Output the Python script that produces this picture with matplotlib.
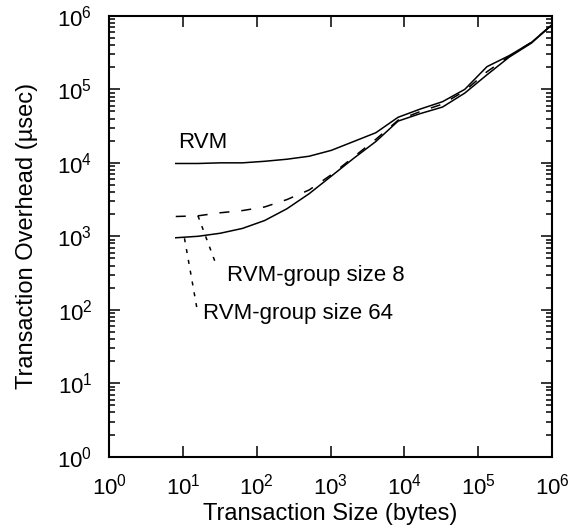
import matplotlib
matplotlib.use("Agg")
import matplotlib.pyplot as plt
from matplotlib.ticker import FixedLocator, LogLocator, NullLocator, LogFormatterSciNotation

plt.rcParams["font.family"] = ["Liberation Sans", "DejaVu Sans"]
plt.rcParams["mathtext.fontset"] = "custom"
plt.rcParams["mathtext.rm"] = "Liberation Sans"
plt.rcParams["mathtext.it"] = "Liberation Sans:italic"
plt.rcParams["lines.scale_dashes"] = False

# transaction sizes in bytes (powers of two)
sizes = [8, 16, 32, 64, 128, 256, 512, 1024, 2048, 4096, 8192, 16384,
         32768, 65536, 131072, 262144, 524288, 1048576]

# overhead in microseconds
rvm = [9800, 9800, 10000, 10000, 10500, 11200, 12300, 14800, 19500, 25700,
       41700, 54000, 68000, 100000, 204000, 288000, 437000, 794000]
group8 = [1860, 1900, 2090, 2240, 2510, 3160, 4270, 6900, 12000, 20900,
          38000, 50000, 63000, 95500, 174000, 282000, 437000, 794000]
group64 = [955, 1000, 1100, 1280, 1640, 2370, 3800, 6600, 11500, 19500,
           37000, 46800, 57500, 89000, 158000, 275000, 427000, 794000]

decades = [10.0 ** k for k in range(7)]

fig = plt.figure(figsize=(5.71, 5.31), dpi=100)
ax = fig.add_axes([0.191, 0.140, 0.776, 0.830])

ax.plot(sizes, rvm, color="black", lw=1.1)
ax.plot(sizes, group8, color="black", lw=1.1, linestyle=(0, (7.2, 8.6)))
ax.plot(sizes, group64, color="black", lw=1.1)

ax.set_xscale("log")
ax.set_yscale("log")
ax.set_xlim(1, 1e6)
ax.set_ylim(1, 1e6)

ax.xaxis.set_major_locator(FixedLocator(decades))
ax.xaxis.set_minor_locator(NullLocator())
ax.yaxis.set_major_locator(FixedLocator(decades))
ax.yaxis.set_minor_locator(LogLocator(base=10, subs=range(2, 10), numticks=10))
ax.xaxis.set_major_formatter(LogFormatterSciNotation())
ax.yaxis.set_major_formatter(LogFormatterSciNotation())

ax.tick_params(which="both", direction="in", top=True, right=True,
               labelsize=16, width=1.1)
ax.tick_params(which="major", length=8)
ax.tick_params(which="minor", length=4)
ax.tick_params(axis="x", pad=12)
ax.tick_params(axis="y", pad=12)
for s in ax.spines.values():
    s.set_linewidth(1.5)

ax.set_xlabel("Transaction Size (bytes)", fontsize=17, labelpad=3)
ax.set_ylabel("Transaction Overhead (\u00b5sec)", fontsize=17, labelpad=14)

# labels with dotted leaders
ax.text(8.6, 16100, "RVM", fontsize=16, va="baseline", ha="left")
ax.text(39.5, 246, "RVM-group size 8", fontsize=16, va="baseline", ha="left")
ax.text(19.0, 76, "RVM-group size 64", fontsize=16, va="baseline", ha="left")

dots = (0, (2.9, 5.0))
ax.plot([16, 29], [1900, 380], color="black", lw=1.1, linestyle=dots)
ax.plot([10.5, 15.5], [940, 104], color="black", lw=1.1, linestyle=dots)

fig.savefig("out.png", dpi=100)
